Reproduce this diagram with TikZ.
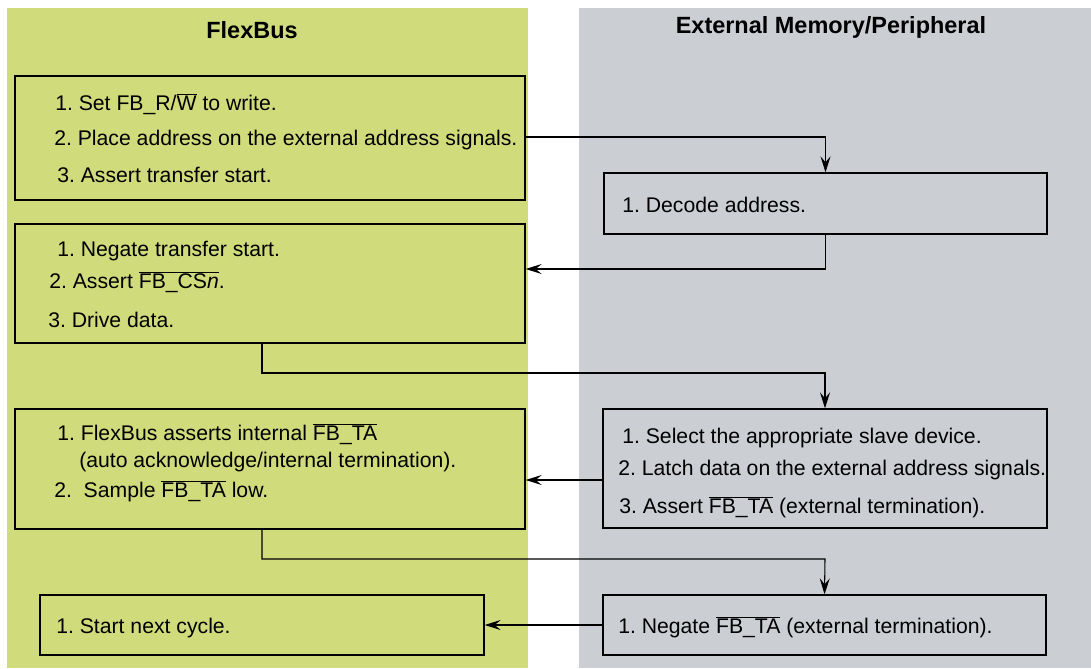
\documentclass[tikz,border=0pt]{standalone}
\usepackage{fontspec}
\setmainfont{Liberation Sans}
\usetikzlibrary{arrows.meta,fit}
\definecolor{fbgreen}{RGB}{208,220,123}
\definecolor{fbgray}{RGB}{203,206,211}
\newcommand{\ovl}[1]{$\overline{\hbox{#1}}$}
\frenchspacing
\tikzset{
  box/.style={draw=black, line width=1pt, inner sep=0pt},
  txt/.style={anchor=west, inner sep=0pt, text height=11.45pt, text depth=0pt,
              font=\fontsize{15.9}{18}\selectfont},
  hdr/.style={inner sep=0pt, text height=12.7pt, text depth=0pt,
              font=\fontsize{17.6}{20}\selectfont\bfseries},
  arr/.style={draw=black, line width=0.8pt, -{Stealth[length=12pt, width=7.5pt, inset=4.5pt]}},
  panel/.style={draw=none, inner sep=0pt}
}
\begin{document}
\begin{tikzpicture}[x=0.75pt, y=-0.75pt]
\useasboundingbox (0,0) rectangle (1091,668);
% panels
\node[panel, fill=fbgreen, fit={(7,8) (528,668)}] (pg) {};
\node[panel, fill=fbgray, fit={(579,8) (1091,668)}] (pr) {};
% headers
\node[hdr] (h1) at (252,30) {FlexBus};
\node[hdr] (h2) at (831,25) {External Memory/Peripheral};
% boxes
\node[box, fit={(15,76) (525,200)}] (b1) {};
\node[box, fit={(604,173) (1047,234)}] (d) {};
\node[box, fit={(15,224) (525,343)}] (b2) {};
\node[box, fit={(15,409) (525,529)}] (b3) {};
\node[box, fit={(603,409) (1047,528)}] (b4) {};
\node[box, fit={(40,595) (484,655)}] (b5) {};
\node[box, fit={(603,595) (1046,655)}] (b6) {};
% texts
\node[txt] (t11) at (55,103) {1. Set FB\_R/\ovl{W} to write.};
\node[txt] (t12) at (54,138) {2. Place address on the external address signals.};
\node[txt] (t13) at (57,175) {3. Assert transfer start.};
\node[txt] (td) at (622,205) {1. Decode address.};
\node[txt] (t21) at (57,249) {1. Negate transfer start.};
\node[txt] (t22) at (49,281) {2. Assert \ovl{FB\_CS\textit{n}}.};
\node[txt] (t23) at (48,320) {3. Drive data.};
\node[txt] (t31) at (57,433) {1. FlexBus asserts internal \ovl{FB\_TA}};
\node[txt] (t32) at (79,460) {(auto acknowledge/internal termination).};
\node[txt] (t33) at (54,490) {2.\ \ Sample \ovl{FB\_TA} low.};
\node[txt] (t41) at (622,436) {1. Select the appropriate slave device.};
\node[txt] (t42) at (618,468) {2. Latch data on the external address signals.};
\node[txt] (t43) at (619,506) {3. Assert \ovl{FB\_TA} (external termination).};
\node[txt] (t5) at (56,626) {1. Start next cycle.};
\node[txt] (t6) at (618,626) {1. Negate \ovl{FB\_TA} (external termination).};
% connectors
\draw[arr] (b1.east |- 0,137) -| (d.north);
\draw[arr] (d.south) |- (b2.east |- 0,269);
\draw[arr] (b2.south -| 262,0) |- (825,373) -- (b4.north);
\draw[arr] (b4.west |- 0,480) -- (b3.east |- 0,480);
\draw[arr] (b3.south -| 262,0) |- (825,559) -- (b6.north);
\draw[arr] (b6.west) -- (b5.east);
\end{tikzpicture}
\end{document}
